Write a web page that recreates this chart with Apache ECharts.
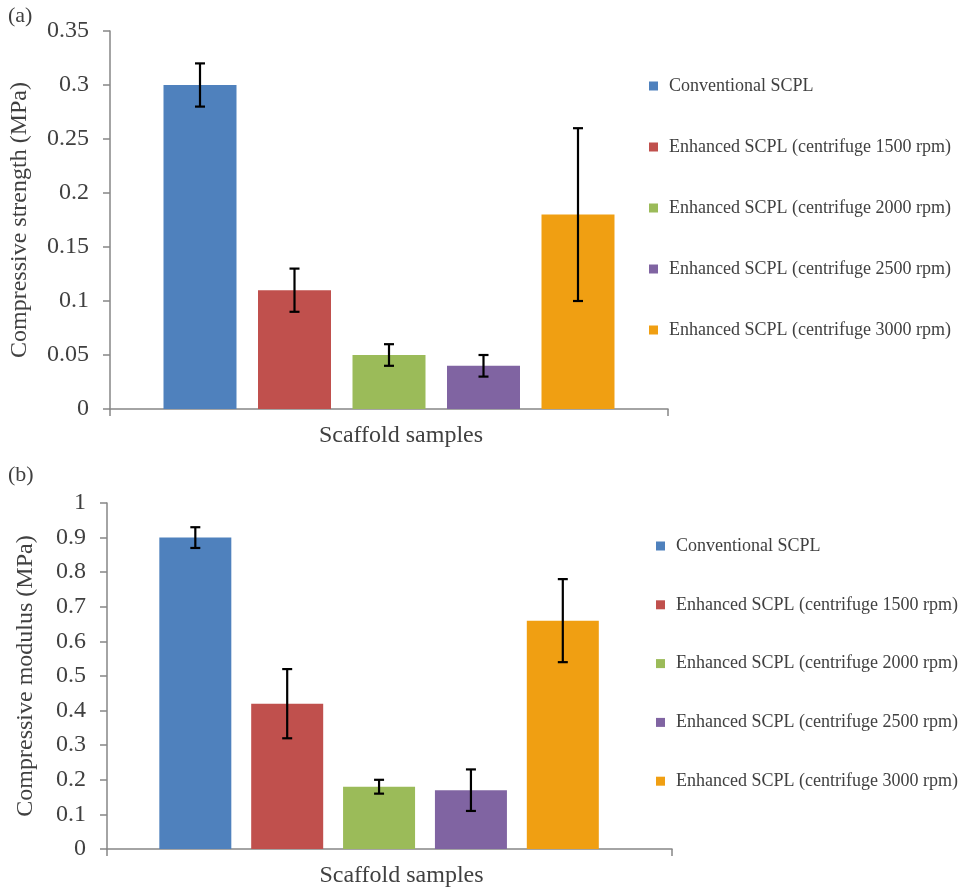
<!DOCTYPE html>
<html>
<head>
<meta charset="utf-8">
<script src="https://cdn.jsdelivr.net/npm/echarts@6/dist/echarts.min.js"></script>
<style>
html,body{margin:0;padding:0;background:#fff;}
#chart{width:969px;height:893px;}
</style>
</head>
<body>
<div id="chart"></div>
<script>
// ---- data ----
const categories = ['Scaffold samples'];
const seriesNames = [
  'Conventional SCPL',
  'Enhanced SCPL (centrifuge 1500 rpm)',
  'Enhanced SCPL (centrifuge 2000 rpm)',
  'Enhanced SCPL (centrifuge 2500 rpm)',
  'Enhanced SCPL (centrifuge 3000 rpm)'
];
const strengthValues = [0.30, 0.11, 0.05, 0.04, 0.18];
const strengthErrors = [0.02, 0.02, 0.01, 0.01, 0.08];
const modulusValues = [0.90, 0.42, 0.18, 0.17, 0.66];
const modulusErrors = [0.03, 0.10, 0.02, 0.06, 0.12];
const strengthTicks = ['0', '0.05', '0.1', '0.15', '0.2', '0.25', '0.3', '0.35'];
const modulusTicks = ['0', '0.1', '0.2', '0.3', '0.4', '0.5', '0.6', '0.7', '0.8', '0.9', '1'];

// ---- style ----
const colors = ['#4F81BD', '#C0504D', '#9BBB59', '#8064A2', '#F09F12'];
const FONT = 'Liberation Serif';
const TXT = '#404040';
const AX = '#868686';

// bar layout params (per panel)
const layoutA = { bw: 73, gapPct: 0.2945, pad: 0 };
const layoutB = { bw: 72, gapPct: 0.276, pad: 1 };

function barOffset(L, i) {
  const gap = L.bw * L.gapPct;
  const n = seriesNames.length;
  let total = n * L.bw + (n - 1) * gap;
  if (L.pad) total += gap + L.pad;
  return -total / 2 + L.bw / 2 + i * (L.bw + gap);
}

function tickFormatter(labels, step) {
  return function (v) {
    const idx = Math.round(v / step);
    return labels[idx] !== undefined ? labels[idx] : '';
  };
}

function makeYAxis(idx, max, step, labels, name, gap) {
  return {
    type: 'value', gridIndex: idx, min: 0, max: max, interval: step,
    name: name, nameLocation: 'middle', nameGap: gap, nameRotate: 90,
    nameTextStyle: { fontFamily: FONT, fontSize: 24, color: TXT },
    axisLine: { show: true, lineStyle: { color: AX, width: 1.5 } },
    axisTick: { show: true, length: 7, lineStyle: { color: AX, width: 1.5 } },
    axisLabel: { fontFamily: FONT, fontSize: 24, color: TXT, margin: 21,
      formatter: tickFormatter(labels, step) },
    splitLine: { show: false }
  };
}

function makeXAxis(idx) {
  return {
    type: 'category', gridIndex: idx, data: categories,
    name: categories[0], nameLocation: 'middle', nameGap: 15,
    nameTextStyle: { fontFamily: FONT, fontSize: 24, color: TXT, padding: [0, 0, 0, 24], verticalAlign: 'top' },
    axisLine: { show: true, lineStyle: { color: AX, width: 1.5 } },
    axisTick: { show: true, length: 7, lineStyle: { color: AX, width: 1.5 } },
    axisLabel: { show: false },
    splitLine: { show: false }
  };
}

function barSeries(values, axisIdx, L) {
  return seriesNames.map((nm, i) => ({
    type: 'bar', name: nm, xAxisIndex: axisIdx, yAxisIndex: axisIdx,
    data: [values[i]], barWidth: L.bw, barGap: (L.gapPct * 100) + '%',
    itemStyle: { color: colors[i] }, silent: true
  }));
}

function errorSeries(values, errors, axisIdx, L) {
  return {
    type: 'custom', xAxisIndex: axisIdx, yAxisIndex: axisIdx, silent: true, z: 10,
    data: values.map((v, i) => [0, v - errors[i], v + errors[i], i]),
    encode: { x: 0, y: [1, 2] },
    renderItem: function (params, api) {
      const i = api.value(3);
      const lo = api.coord([0, api.value(1)]);
      const hi = api.coord([0, api.value(2)]);
      const x = lo[0] + barOffset(L, i);
      const cap = 5;
      const st = { stroke: '#000', lineWidth: 2.2 };
      return {
        type: 'group',
        children: [
          { type: 'line', shape: { x1: x, y1: lo[1], x2: x, y2: hi[1] }, style: st },
          { type: 'line', shape: { x1: x - cap, y1: lo[1], x2: x + cap, y2: lo[1] }, style: st },
          { type: 'line', shape: { x1: x - cap, y1: hi[1], x2: x + cap, y2: hi[1] }, style: st }
        ]
      };
    }
  };
}

function makeLegend(left, top, gap) {
  return {
    data: seriesNames, orient: 'vertical', left: left, top: top,
    icon: 'rect', itemWidth: 9, itemHeight: 9, itemGap: gap,
    selectedMode: false,
    textStyle: { fontFamily: FONT, fontSize: 18, color: TXT, lineHeight: 20, padding: [0, 0, 0, 6] }
  };
}

const series = []
  .concat(barSeries(strengthValues, 0, layoutA))
  .concat(barSeries(modulusValues, 1, layoutB))
  .concat([{ type: 'bar', name: 'pad', xAxisIndex: 1, yAxisIndex: 1, data: [], barWidth: layoutB.pad,
             barGap: (layoutB.gapPct * 100) + '%', silent: true }])
  .concat([errorSeries(strengthValues, strengthErrors, 0, layoutA),
           errorSeries(modulusValues, modulusErrors, 1, layoutB)]);

const chart = echarts.init(document.getElementById('chart'), null, { renderer: 'canvas' });
chart.setOption({
  animation: false,
  backgroundColor: '#fff',
  title: [
    { text: '(a)', left: 3, top: 0, textStyle: { fontFamily: FONT, fontSize: 22, fontWeight: 'normal', color: TXT } },
    { text: '(b)', left: 3, top: 459, textStyle: { fontFamily: FONT, fontSize: 22, fontWeight: 'normal', color: TXT } }
  ],
  grid: [
    { left: 110, top: 31, width: 558, height: 378, containLabel: false, outerBoundsMode: 'none' },
    { left: 107, top: 503, width: 565, height: 346, containLabel: false, outerBoundsMode: 'none' }
  ],
  xAxis: [makeXAxis(0), makeXAxis(1)],
  yAxis: [
    makeYAxis(0, 0.35, 0.05, strengthTicks, 'Compressive strength (MPa)', 78),
    makeYAxis(1, 1, 0.1, modulusTicks, 'Compressive modulus (MPa)', 69)
  ],
  legend: [makeLegend(644, 71, 41), makeLegend(651, 531, 38.8)],
  series: series
});
</script>
</body>
</html>
